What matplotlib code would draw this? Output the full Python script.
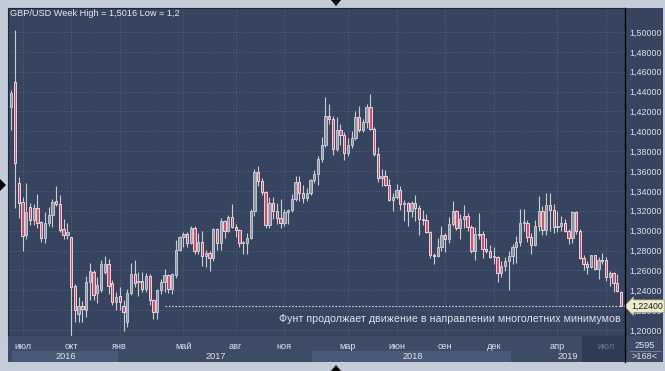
import numpy as np
import pandas as pd
import matplotlib
matplotlib.use("Agg")
import matplotlib.pyplot as plt
import matplotlib.transforms as mtransforms
from matplotlib.patches import Rectangle, Polygon
from matplotlib.lines import Line2D

plt.rcParams['font.family'] = ['Liberation Sans', 'DejaVu Sans']

# weekly GBP/USD candles, Jun 2016 .. Jul 2019
opens = [
    1.4240, 1.4497, 1.3480, 1.3290, 1.2955, 1.3240, 1.3110, 1.3227, 1.3087, 1.2926,
    1.3080, 1.3160, 1.3300, 1.3270, 1.3020, 1.2960, 1.2935, 1.2445, 1.2165, 1.2240,
    1.2200, 1.2480, 1.2580, 1.2370, 1.2400, 1.2580, 1.2660, 1.2470, 1.2280, 1.2340,
    1.2240, 1.2080, 1.2370, 1.2560, 1.2480, 1.2490, 1.2410, 1.2540, 1.2300, 1.2180,
    1.2400, 1.2480, 1.2550, 1.2410, 1.2550, 1.2810, 1.2940, 1.2970, 1.2880, 1.3030,
    1.2800, 1.2890, 1.2740, 1.2780, 1.2720, 1.3020, 1.2880, 1.3100, 1.3000, 1.3140,
    1.3040, 1.3010, 1.2880, 1.2880, 1.2930, 1.3200, 1.3590, 1.3500, 1.3390, 1.3060,
    1.3280, 1.3200, 1.3130, 1.3080, 1.3190, 1.3210, 1.3320, 1.3490, 1.3380, 1.3330,
    1.3380, 1.3510, 1.3570, 1.3720, 1.3860, 1.4150, 1.4120, 1.3820, 1.4010, 1.3960,
    1.3780, 1.3860, 1.3930, 1.4140, 1.4010, 1.4090, 1.4240, 1.4020, 1.3770, 1.3530,
    1.3550, 1.3460, 1.3310, 1.3340, 1.3410, 1.3270, 1.3280, 1.3200, 1.3280, 1.3230,
    1.3120, 1.3110, 1.2990, 1.2750, 1.2740, 1.2840, 1.2960, 1.2920, 1.3070, 1.3200,
    1.3030, 1.3120, 1.3150, 1.3040, 1.2800, 1.2970, 1.2970, 1.2820, 1.2800, 1.2730,
    1.2730, 1.2570, 1.2640, 1.2690, 1.2740, 1.2840, 1.2890, 1.3080, 1.3080, 1.2940,
    1.2860, 1.3050, 1.3200, 1.3010, 1.3260, 1.3210, 1.3040, 1.3050, 1.3080, 1.3000,
    1.2930, 1.3190, 1.3000, 1.2720, 1.2660, 1.2630, 1.2750, 1.2610, 1.2700, 1.2700,
    1.2530, 1.2570, 1.2470, 1.2382,
]
highs = [
    1.4420, 1.5016, 1.3540, 1.3340, 1.3480, 1.3280, 1.3270, 1.3370, 1.3100, 1.3190,
    1.3240, 1.3320, 1.3445, 1.3360, 1.3120, 1.3080, 1.2940, 1.2460, 1.2335, 1.2290,
    1.2540, 1.2670, 1.2600, 1.2530, 1.2705, 1.2740, 1.2710, 1.2500, 1.2380, 1.2430,
    1.2300, 1.2415, 1.2670, 1.2700, 1.2580, 1.2580, 1.2570, 1.2560, 1.2310, 1.2410,
    1.2510, 1.2610, 1.2560, 1.2570, 1.2905, 1.2950, 1.2990, 1.2990, 1.3050, 1.3050,
    1.2980, 1.3000, 1.2810, 1.2800, 1.3030, 1.3030, 1.3125, 1.3110, 1.3160, 1.3270,
    1.3070, 1.3020, 1.2900, 1.2980, 1.3220, 1.3620, 1.3650, 1.3530, 1.3400, 1.3340,
    1.3340, 1.3280, 1.3320, 1.3220, 1.3220, 1.3370, 1.3550, 1.3550, 1.3460, 1.3430,
    1.3520, 1.3610, 1.3750, 1.3940, 1.4345, 1.4280, 1.4150, 1.4145, 1.4070, 1.3990,
    1.3930, 1.4000, 1.4200, 1.4250, 1.4120, 1.4280, 1.4376, 1.4040, 1.3840, 1.3620,
    1.3610, 1.3520, 1.3380, 1.3470, 1.3450, 1.3310, 1.3290, 1.3300, 1.3360, 1.3260,
    1.3210, 1.3170, 1.3000, 1.2780, 1.2930, 1.3050, 1.2980, 1.3140, 1.3300, 1.3210,
    1.3170, 1.3260, 1.3180, 1.3060, 1.3040, 1.3180, 1.3000, 1.2930, 1.2860, 1.2840,
    1.2740, 1.2690, 1.2730, 1.2800, 1.2870, 1.2950, 1.3220, 1.3220, 1.3110, 1.2980,
    1.3110, 1.3350, 1.3250, 1.3380, 1.3380, 1.3270, 1.3200, 1.3150, 1.3120, 1.3020,
    1.3200, 1.3200, 1.3020, 1.2760, 1.2690, 1.2760, 1.2760, 1.2730, 1.2780, 1.2730,
    1.2590, 1.2580, 1.2560, 1.2390,
]
lows = [
    1.4010, 1.3229, 1.3126, 1.2798, 1.2920, 1.3060, 1.3060, 1.3030, 1.2890, 1.2880,
    1.3050, 1.3040, 1.3250, 1.2990, 1.2920, 1.2920, 1.1841, 1.2085, 1.2085, 1.2080,
    1.2130, 1.2300, 1.2300, 1.2270, 1.2380, 1.2560, 1.2360, 1.2250, 1.2200, 1.2200,
    1.1986, 1.2030, 1.2350, 1.2430, 1.2340, 1.2380, 1.2380, 1.2250, 1.2110, 1.2110,
    1.2360, 1.2380, 1.2370, 1.2360, 1.2520, 1.2800, 1.2840, 1.2840, 1.2870, 1.2770,
    1.2770, 1.2640, 1.2630, 1.2590, 1.2690, 1.2810, 1.2810, 1.2930, 1.2990, 1.3030,
    1.2940, 1.2840, 1.2770, 1.2770, 1.2920, 1.3150, 1.3450, 1.3360, 1.3030, 1.3030,
    1.3120, 1.3070, 1.3030, 1.3050, 1.3070, 1.3190, 1.3300, 1.3300, 1.3280, 1.3300,
    1.3360, 1.3480, 1.3460, 1.3690, 1.3840, 1.4070, 1.3760, 1.3800, 1.3860, 1.3710,
    1.3750, 1.3830, 1.3910, 1.3990, 1.3990, 1.4030, 1.4010, 1.3750, 1.3490, 1.3450,
    1.3450, 1.3300, 1.3200, 1.3320, 1.3210, 1.3100, 1.3050, 1.3140, 1.3100, 1.2960,
    1.3060, 1.2980, 1.2720, 1.2660, 1.2730, 1.2800, 1.2790, 1.2880, 1.3050, 1.3010,
    1.2920, 1.3030, 1.3000, 1.2780, 1.2700, 1.2920, 1.2720, 1.2780, 1.2720, 1.2660,
    1.2480, 1.2530, 1.2590, 1.2400, 1.2660, 1.2670, 1.2850, 1.3000, 1.2890, 1.2770,
    1.2850, 1.3000, 1.2960, 1.2960, 1.3000, 1.2980, 1.2990, 1.3000, 1.2990, 1.2870,
    1.2880, 1.2970, 1.2710, 1.2600, 1.2560, 1.2620, 1.2600, 1.2510, 1.2660, 1.2490,
    1.2440, 1.2380, 1.2380, 1.2240,
]
closes = [
    1.4390, 1.3680, 1.3280, 1.2950, 1.3190, 1.3110, 1.3230, 1.3077, 1.2926, 1.3080,
    1.3160, 1.3290, 1.3270, 1.3005, 1.2960, 1.2985, 1.2432, 1.2200, 1.2240, 1.2210,
    1.2480, 1.2590, 1.2350, 1.2450, 1.2665, 1.2660, 1.2440, 1.2280, 1.2330, 1.2280,
    1.2180, 1.2370, 1.2560, 1.2470, 1.2490, 1.2410, 1.2540, 1.2300, 1.2180, 1.2400,
    1.2480, 1.2550, 1.2410, 1.2560, 1.2810, 1.2940, 1.2970, 1.2880, 1.3030, 1.2800,
    1.2890, 1.2740, 1.2780, 1.2720, 1.3020, 1.2880, 1.3100, 1.3000, 1.3140, 1.3040,
    1.3010, 1.2880, 1.2890, 1.2930, 1.3200, 1.3590, 1.3500, 1.3390, 1.3060, 1.3280,
    1.3200, 1.3130, 1.3080, 1.3190, 1.3210, 1.3320, 1.3490, 1.3380, 1.3330, 1.3380,
    1.3510, 1.3570, 1.3720, 1.3860, 1.4150, 1.4120, 1.3820, 1.4010, 1.3960, 1.3780,
    1.3860, 1.3930, 1.4140, 1.4010, 1.4090, 1.4240, 1.4020, 1.3770, 1.3530, 1.3550,
    1.3460, 1.3310, 1.3340, 1.3410, 1.3270, 1.3280, 1.3200, 1.3280, 1.3230, 1.3120,
    1.3110, 1.2990, 1.2750, 1.2740, 1.2840, 1.2960, 1.2920, 1.3070, 1.3200, 1.3030,
    1.3120, 1.3150, 1.3040, 1.2800, 1.2970, 1.2960, 1.2820, 1.2800, 1.2730, 1.2740,
    1.2570, 1.2640, 1.2690, 1.2740, 1.2840, 1.2890, 1.3080, 1.3090, 1.2940, 1.2860,
    1.3050, 1.3200, 1.3010, 1.3260, 1.3210, 1.3040, 1.3050, 1.3080, 1.3000, 1.2930,
    1.3190, 1.3000, 1.2720, 1.2660, 1.2630, 1.2750, 1.2610, 1.2700, 1.2690, 1.2530,
    1.2570, 1.2470, 1.2390, 1.2240,
]

month_labels = ['июл', 'окт', 'янв', 'май', 'авг', 'ноя', 'мар', 'июн', 'сен', 'дек', 'апр', 'июл']
month_keys = ['2016-07', '2016-10', '2017-01', '2017-05', '2017-08', '2017-11',
              '2018-03', '2018-06', '2018-09', '2018-12', '2019-04', '2019-07']
year_labels = ['2016', '2017', '2018', '2019']
last_price = 1.2240
title = 'GBP/USD Week High = 1,5016 Low = 1,2'
note = 'Фунт продолжает движение в направлении многолетних минимумов'

W, H = 665, 371
BG = '#36445f'
ROW = '#3e4b67'
BAND = '#4b5978'
TXT = '#dfe3ea'


def box(x0, y0, x1, y1):
    return [x0 / W, 1 - y1 / H, (x1 - x0) / W, (y1 - y0) / H]


weeks = pd.date_range('2016-06-13', periods=len(closes), freq='W-MON')
keys = weeks.strftime('%Y-%m')
x = np.arange(len(closes))
month_pos = [int(np.argmax(keys == k)) for k in month_keys]

fig = plt.figure(figsize=(W / 100, H / 100), dpi=100, facecolor='#c3ccd8')

# right price panel + frame pieces
fig.add_artist(Rectangle((625 / W, 1 - 362 / H), 38 / W, 354 / H, transform=fig.transFigure,
                         facecolor=BG, edgecolor='none', zorder=-1))
fig.add_artist(Rectangle((625 / W, 1 - 362 / H), 38 / W, 26 / H, transform=fig.transFigure,
                         facecolor=ROW, edgecolor='none', zorder=-1))

ax = fig.add_axes(box(8, 8, 625, 336))
axb = fig.add_axes(box(8, 336, 625, 362), sharex=ax)

ax.set_facecolor(BG)
ax.set_xlim(-0.88, 164.07)
ax.set_ylim(1.19396, 1.52416)

# candles
for i in x:
    o, h, l, c = opens[i], highs[i], lows[i], closes[i]
    up = c >= o
    face = '#8e95a4' if up else '#e2486a'
    edge = '#cfd3da' if up else '#f1eef0'
    ax.vlines(i, l, h, color='#c9cdd5', lw=0.8, zorder=2)
    ax.bar(i, max(abs(c - o), 0.0008), bottom=min(o, c), width=0.62, color=face,
           edgecolor=edge, linewidth=0.6, zorder=3)

ax.hlines(last_price, 41, x[-1] + 0.4, colors='#cfd4de', lw=0.8, linestyles=(0, (1.5, 1.5)), zorder=4)
ax.text(x[-1], 1.2111, note, ha='right', va='center', fontsize=7.7, color=TXT, zorder=5)

price_ticks = np.round(np.arange(1.20, 1.5001, 0.02), 2)
ax.set_yticks(price_ticks)
ax.set_yticklabels([f'{v:.5f}'.replace('.', ',') for v in price_ticks])
ax.yaxis.tick_right()
ax.tick_params(axis='y', length=0, pad=3, labelsize=6.4, labelcolor=TXT)
ax.set_xticks(month_pos)
ax.tick_params(axis='x', length=0, labelbottom=False)
ax.grid(color='#56647f', ls=(0, (1, 2)), lw=0.7)
ax.set_axisbelow(True)
for side, sp in ax.spines.items():
    sp.set_color('#1f2636')
    sp.set_linewidth(0.8)
ax.spines['right'].set_visible(False)

ax.text(631 / W, last_price, f'{last_price:.5f}'.replace('.', ','),
        transform=mtransforms.blended_transform_factory(fig.transFigure, ax.transData),
        ha='left', va='center', fontsize=6.3, color='#1b1b1b',
        clip_on=False, zorder=6,
        bbox=dict(boxstyle='larrow,pad=0.2', facecolor='#eeebcb', edgecolor='#aaa783', lw=0.5))

# bottom time axis
axb.set_facecolor(ROW)
axb.set_ylim(0, 1)
axb.tick_params(left=False, bottom=False, labelleft=False, labelbottom=False)
for sp in axb.spines.values():
    sp.set_visible(False)

year_starts = [0] + [int(np.argmax(weeks.year == int(y))) for y in year_labels[1:]]
year_ends = year_starts[1:] + [ax.get_xlim()[1]]
for k, (a, b) in enumerate(zip(year_starts, year_ends)):
    a0 = a - 0.5 if k else 0.2
    axb.add_patch(Rectangle((a0, 0), b - 0.5 - a0, 0.42,
                            facecolor=BAND if k % 2 == 0 else ROW, edgecolor='none'))
    axb.text((a0 + b) / 2, 0.2, year_labels[k], ha='center', va='center',
             fontsize=6.6, color=TXT)
axb.add_patch(Rectangle((152.6, 0), 20, 1, facecolor='#2f3b55', edgecolor='none'))
for k, (p, lab) in enumerate(zip(month_pos, month_labels)):
    dim = k == len(month_labels) - 1
    axb.text(p, 0.6, lab, ha='center', va='center', fontsize=6.6,
             color='#6d7894' if dim else TXT)

fig.text(645 / W, 1 - 345 / H, '2595', ha='center', va='center', fontsize=6.6, color=TXT)
fig.text(645 / W, 1 - 356.5 / H, '>168<', ha='center', va='center', fontsize=6.6, color=TXT)
fig.add_artist(Line2D([630 / W, 660 / W], [1 - 350.5 / H] * 2, color='#7d89a1', lw=0.6))

# black separator between chart and price panel
fig.add_artist(Line2D([625 / W, 625 / W], [1 - 8 / H, 1 - 362 / H], color='black', lw=1.0))

fig.text(10 / W, 1 - 14 / H, title, ha='left', va='center', fontsize=6.6, color='#e8ebf0')

# small navigation triangles
for pts in ([(331, 0), (341, 0), (336, 6)], [(331, 371), (341, 371), (336, 365)],
            [(0, 179), (0, 191), (6, 185)]):
    fig.add_artist(Polygon([(px / W, 1 - py / H) for px, py in pts], closed=True,
                           transform=fig.transFigure, facecolor='black', edgecolor='none'))

fig.savefig('out.png', dpi=100, facecolor=fig.get_facecolor())
